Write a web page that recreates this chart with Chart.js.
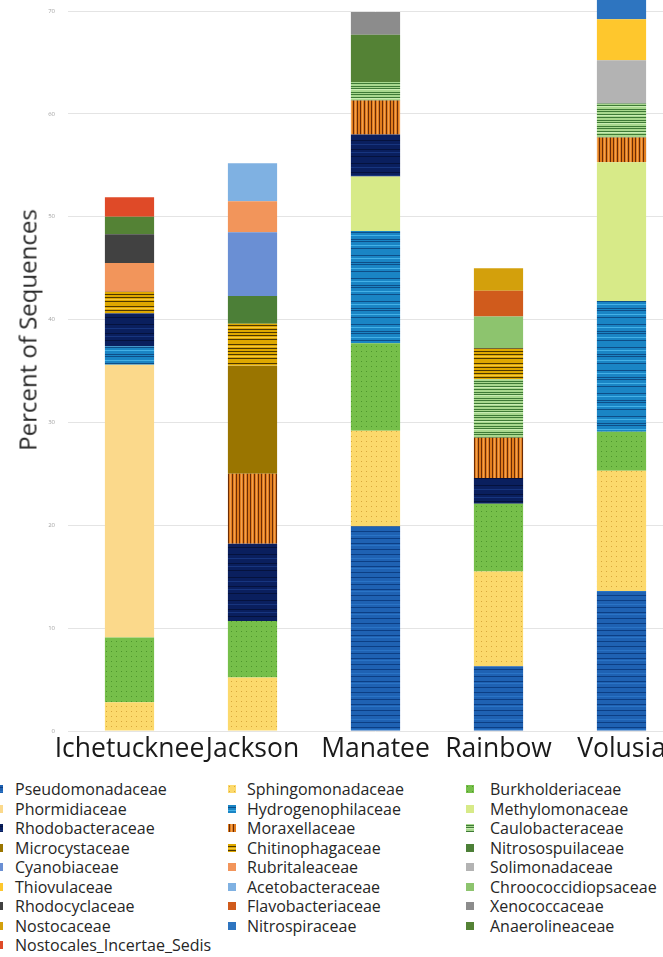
<!DOCTYPE html>
<html>
<head>
<meta charset="utf-8">
<script src="https://cdn.jsdelivr.net/npm/chart.js@4.4.1/dist/chart.umd.min.js"></script>
<style>
  html, body { margin: 0; padding: 0; background: #fff; overflow: hidden; }
  #wrap { position: relative; width: 663px; height: 957px; overflow: hidden; font-family: "Open Sans", sans-serif; }
  #chart { position: absolute; left: 0; top: 0; }
  #ytitle { position: absolute; left: 27px; top: 330px; transform: translate(-50%, -50%) rotate(-90deg);
            white-space: nowrap; font-size: 24px; color: #262626; }
  .lg-mark { position: absolute; width: 8px; height: 8px; }
  .lg-text { position: absolute; font-size: 16px; line-height: 20px; color: #262626; white-space: nowrap; }
</style>
</head>
<body>
<div id="wrap">
  <canvas id="chart" width="700" height="776"></canvas>
  <div id="ytitle">Percent of Sequences</div>
  <div id="legend"></div>
</div>
<script>
// Sampling sites (x-axis categories)
const sites = ["Ichetucknee", "Jackson", "Manatee", "Rainbow", "Volusia"];

// Percent of sequences per family, one value per site
const pseudomonadaceae      = [0,    0,    19.9, 6.3,  13.6];
const sphingomonadaceae     = [2.8,  5.2,  9.3,  9.2,  11.7];
const burkholderiaceae      = [6.3,  5.5,  8.5,  6.6,  3.8];
const phormidiaceae         = [26.5, 0,    0,    0,    0];
const hydrogenophilaceae    = [1.8,  0,    10.9, 0,    12.7];
const methylomonaceae       = [0,    0,    5.3,  0,    13.5];
const rhodobacteraceae      = [3.2,  7.5,  4.1,  2.5,  0];
const moraxellaceae         = [0,    6.8,  3.3,  3.9,  2.4];
const microcystaceae        = [0,    10.5, 0,    0,    0];
const caulobacteraceae      = [0,    0,    1.8,  5.7,  3.3];
const chitinophagaceae      = [2.1,  4.1,  0,    3.0,  0];
const nitrosospuilaceae     = [0,    2.7,  0,    0,    0];
const cyanobiaceae          = [0,    6.2,  0,    0,    0];
const rubritaleaceae        = [2.8,  3.0,  0,    0,    0];
const acetobacteraceae      = [0,    3.7,  0,    0,    0];
const rhodocyclaceae        = [2.8,  0,    0,    0,    0];
const anaerolineaceae       = [1.7,  0,    4.6,  0,    0];
const xenococcaceae         = [0,    0,    2.2,  0,    0];
const nostocalesIncertae    = [1.9,  0,    0,    0,    0];
const chroococcidiopsaceae  = [0,    0,    0,    3.1,  0];
const flavobacteriaceae     = [0,    0,    0,    2.5,  0];
const nostocaceae           = [0,    0,    0,    2.2,  0];
const solimonadaceae        = [0,    0,    0,    0,    4.2];
const thiovulaceae          = [0,    0,    0,    0,    4.0];
const nitrospiraceae        = [0,    0,    0,    0,    2.5];

// Y-axis tick range
const yTicks = [0, 10, 20, 30, 40, 50, 60, 70];

// Stacking order (bottom to top)
const series = [
  ["Pseudomonadaceae", pseudomonadaceae],
  ["Sphingomonadaceae", sphingomonadaceae],
  ["Burkholderiaceae", burkholderiaceae],
  ["Phormidiaceae", phormidiaceae],
  ["Hydrogenophilaceae", hydrogenophilaceae],
  ["Methylomonaceae", methylomonaceae],
  ["Rhodobacteraceae", rhodobacteraceae],
  ["Moraxellaceae", moraxellaceae],
  ["Microcystaceae", microcystaceae],
  ["Caulobacteraceae", caulobacteraceae],
  ["Chitinophagaceae", chitinophagaceae],
  ["Nitrosospuilaceae", nitrosospuilaceae],
  ["Cyanobiaceae", cyanobiaceae],
  ["Rubritaleaceae", rubritaleaceae],
  ["Acetobacteraceae", acetobacteraceae],
  ["Rhodocyclaceae", rhodocyclaceae],
  ["Anaerolineaceae", anaerolineaceae],
  ["Xenococcaceae", xenococcaceae],
  ["Nostocales_Incertae_Sedis", nostocalesIncertae],
  ["Chroococcidiopsaceae", chroococcidiopsaceae],
  ["Flavobacteriaceae", flavobacteriaceae],
  ["Nostocaceae", nostocaceae],
  ["Solimonadaceae", solimonadaceae],
  ["Thiovulaceae", thiovulaceae],
  ["Nitrospiraceae", nitrospiraceae]
];

// Legend columns
const legendColumns = [
  ["Pseudomonadaceae", "Phormidiaceae", "Rhodobacteraceae", "Microcystaceae", "Cyanobiaceae",
   "Thiovulaceae", "Rhodocyclaceae", "Nostocaceae", "Nostocales_Incertae_Sedis"],
  ["Sphingomonadaceae", "Hydrogenophilaceae", "Moraxellaceae", "Chitinophagaceae", "Rubritaleaceae",
   "Acetobacteraceae", "Flavobacteriaceae", "Nitrospiraceae"],
  ["Burkholderiaceae", "Methylomonaceae", "Caulobacteraceae", "Nitrosospuilaceae", "Solimonadaceae",
   "Chroococcidiopsaceae", "Xenococcaceae", "Anaerolineaceae"]
];

// Fill styles: [kind, base colour, accent colour(s), stripe sequence]
const fills = {
  Pseudomonadaceae:        ["h", "#1f62b3", ["#0c3f85", "#2a74c6"], "..a...b..a....a.b...a.."],
  Sphingomonadaceae:       ["dots", "#fcd96c", ["#d8a73c"]],
  Burkholderiaceae:        ["dots", "#76bf4a", ["#4e962c"]],
  Phormidiaceae:           ["solid", "#fbd98b"],
  Hydrogenophilaceae:      ["h", "#1a85c5", ["#0e4e88", "#43b0e6"], "..a..b...a.a...b..a...."],
  Methylomonaceae:         ["solid", "#d7ea88"],
  Rhodobacteraceae:        ["h", "#0a1f5e", ["#05123d", "#17357f"], "..a...b....a..b...a...."],
  Moraxellaceae:           ["v", "#e27e1e", ["#6b2c06", "#f0a050"], ".a.b.a..a.b"],
  Microcystaceae:          ["solid", "#9a7500"],
  Caulobacteraceae:        ["h", "#a8d88e", ["#3e7a36", "#c8ecb2"], ".a.ab..a.a..ab.a."],
  Chitinophagaceae:        ["h", "#dea800", ["#4d3700", "#f2c640"], "..a.b.a..a..a.b.a.."],
  Nitrosospuilaceae:       ["solid", "#4c7f37"],
  Cyanobiaceae:            ["solid", "#6a8fd4"],
  Rubritaleaceae:          ["solid", "#f2955b"],
  Acetobacteraceae:        ["solid", "#7fb1e2"],
  Rhodocyclaceae:          ["solid", "#414141"],
  Anaerolineaceae:         ["solid", "#548235"],
  Xenococcaceae:           ["solid", "#8c8c8c"],
  Nostocales_Incertae_Sedis: ["solid", "#df4a28"],
  Chroococcidiopsaceae:    ["solid", "#8dc46e"],
  Flavobacteriaceae:       ["solid", "#d05b1c"],
  Nostocaceae:             ["solid", "#d3a00c"],
  Solimonadaceae:          ["solid", "#b3b3b3"],
  Thiovulaceae:            ["solid", "#fec72d"],
  Nitrospiraceae:          ["solid", "#2e75c0"]
};

// Builds a repeating canvas pattern (dots, horizontal or vertical stripes)
function makeFill(spec, target) {
  const [kind, base, accents, seq] = spec;
  if (kind === "solid") return base;
  const t = document.createElement("canvas");
  let w, h;
  if (kind === "dots") { w = 5; h = 5; }
  else if (kind === "h") { w = 4; h = seq.length; }
  else { w = seq.length; h = 4; }
  t.width = w; t.height = h;
  const c = t.getContext("2d");
  c.fillStyle = base; c.fillRect(0, 0, w, h);
  if (kind === "dots") {
    c.fillStyle = accents[0];
    c.fillRect(1, 1, 1, 1);
  } else {
    for (let i = 0; i < seq.length; i++) {
      const ch = seq[i];
      if (ch === ".") continue;
      c.fillStyle = ch === "a" ? accents[0] : accents[1];
      if (kind === "h") c.fillRect(0, i, w, 1); else c.fillRect(i, 0, 1, h);
    }
  }
  return target.createPattern(t, "repeat");
}

const canvas = document.getElementById("chart");
const ctx = canvas.getContext("2d");

const datasets = series.map(([name, values]) => ({
  label: name,
  data: values,
  backgroundColor: makeFill(fills[name], ctx),
  borderWidth: 0,
  clip: false
}));

// Pins the plot area to fixed edges (top, bottom, left, right) in canvas pixels
const plotFrame = { top: 11, bottom: 731, left: 68, right: 683 };
const pinPlotArea = {
  id: "pinPlotArea",
  afterLayout(chart) {
    const ca = chart.chartArea;
    Object.assign(ca, plotFrame);
    ca.width = plotFrame.right - plotFrame.left;
    ca.height = plotFrame.bottom - plotFrame.top;
    const x = chart.scales.x, y = chart.scales.y;
    x.left = plotFrame.left; x.right = plotFrame.right; x.width = ca.width;
    x.top = plotFrame.bottom; x.bottom = x.top + 45; x.height = 45;
    y.top = plotFrame.top; y.bottom = plotFrame.bottom; y.height = ca.height;
    y.left = 0; y.right = plotFrame.left; y.width = plotFrame.left;
    x.configure(); y.configure();
  }
};

new Chart(ctx, {
  type: "bar",
  data: { labels: sites, datasets },
  plugins: [pinPlotArea],
  options: {
    responsive: false,
    animation: false,
    layout: { padding: { top: 11, right: 17, left: 0, bottom: 0 } },
    plugins: { legend: { display: false }, tooltip: { enabled: false }, title: { display: false } },
    datasets: { bar: { categoryPercentage: 1, barPercentage: 0.4 } },
    scales: {
      x: {
        stacked: true,
        grid: { display: false, drawTicks: false },
        border: { display: false },
        ticks: { font: { family: "Open Sans", size: 26.5 }, color: "#1a1a1a", padding: 3, maxRotation: 0, autoSkip: false },
        afterFit(s) { s.height = 45; }
      },
      y: {
        stacked: true,
        min: yTicks[0],
        max: yTicks[yTicks.length - 1],
        afterBuildTicks(s) { s.ticks = yTicks.map(v => ({ value: v })); },
        ticks: { font: { family: "Open Sans", size: 6 }, color: "#a3a3a3", padding: 13 },
        grid: { color: "#e4e4e4", drawTicks: false },
        border: { display: false },
        afterFit(s) { s.width = 68; }
      }
    }
  }
});

// Legend built from the same series and fills
const legend = document.getElementById("legend");
const markLeft = [-5, 228, 466];
const textLeft = [15, 247, 490];
legendColumns.forEach((col, ci) => {
  col.forEach((name, ri) => {
    const yc = 789 + ri * 19.5;
    const m = document.createElement("canvas");
    m.width = 8; m.height = 8;
    m.className = "lg-mark";
    m.style.left = markLeft[ci] + "px";
    m.style.top = (yc - 4) + "px";
    const mc = m.getContext("2d");
    mc.fillStyle = makeFill(fills[name], mc);
    mc.fillRect(0, 0, 8, 8);
    legend.appendChild(m);
    const tx = document.createElement("div");
    tx.className = "lg-text";
    tx.textContent = name;
    tx.style.left = textLeft[ci] + "px";
    tx.style.top = (yc - 10) + "px";
    legend.appendChild(tx);
  });
});
</script>
</body>
</html>
